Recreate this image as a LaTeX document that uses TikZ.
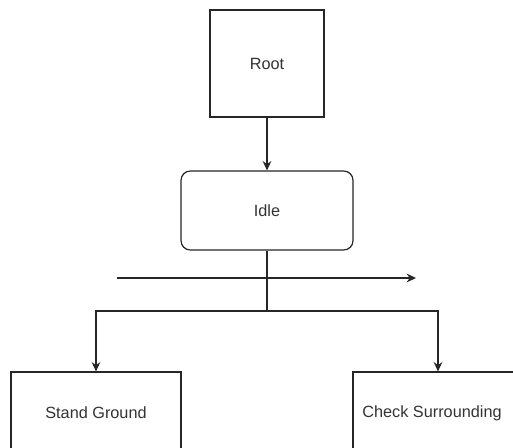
\documentclass[tikz,border=0pt]{standalone}
\usepackage{fontspec}
\setmainfont{Liberation Sans}
\usetikzlibrary{arrows.meta}
\begin{document}
\begin{tikzpicture}[x=0.75pt,y=-0.75pt,
  lbl/.style={font=\fontsize{12.2}{14}\selectfont, text=black!80},
  box/.style={draw=black!85, line width=0.9pt, fill=white, inner sep=0pt, lbl},
  conn/.style={draw=black!85, line width=0.9pt, -{Stealth[length=7pt,width=6.5pt]}},
  plain/.style={draw=black!85, line width=0.9pt}]
\useasboundingbox (0,0) rectangle (513,448);
\clip (0,0) rectangle (513,448);
\node[box, minimum width=85.5pt, minimum height=80.25pt] (root) at (267,63.5) {Root};
\node[box, rounded corners=7pt, minimum width=129pt, minimum height=59.25pt] (idle) at (267,210.5) {Idle};
\node[box, minimum width=127.5pt, minimum height=90pt] (stand) at (96,432) {};
\node[box, minimum width=127.5pt, minimum height=90pt] (check) at (438,432) {};
\node[lbl] (standlbl) at (96,413) {Stand Ground};
\node[lbl] (checklbl) at (432,413) {Check Surrounding};
\coordinate (split) at (267,311);
\coordinate (hstart) at (117,278);
\coordinate (hend) at (416,278);
\draw[conn] (root) -- (idle);
\draw[conn] (hstart) -- (hend);
\draw[plain] (idle.south) -- (split);
\draw[conn] (split) -| (stand.north);
\draw[conn] (split) -| (check.north);
\end{tikzpicture}
\end{document}
